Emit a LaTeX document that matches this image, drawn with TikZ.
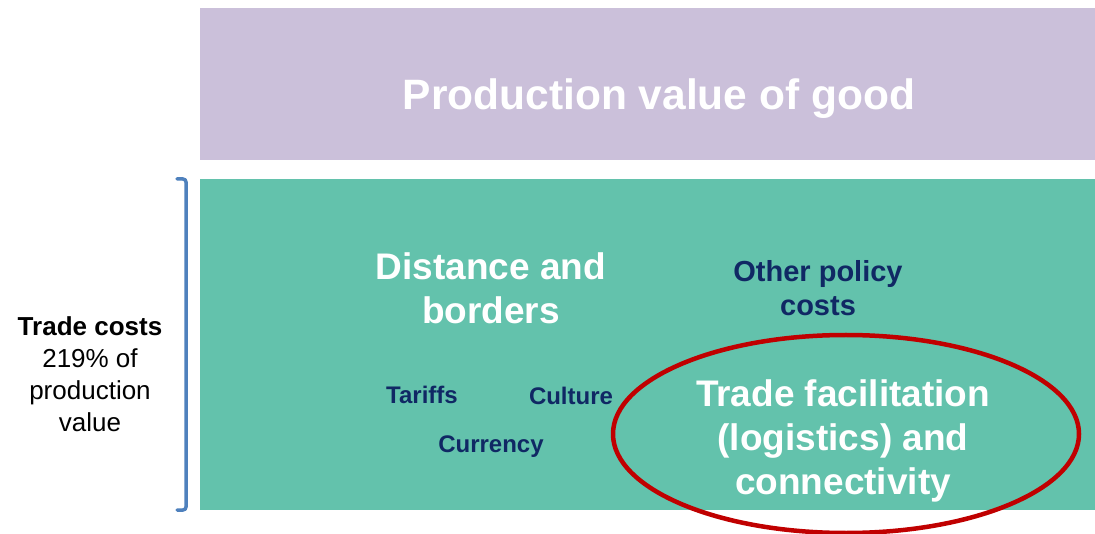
\documentclass[tikz,border=0pt]{standalone}
\usepackage{fontspec}
\setmainfont{Liberation Sans}
\definecolor{lilac}{RGB}{203,192,218}
\definecolor{seagreen}{RGB}{99,194,172}
\definecolor{navytext}{RGB}{16,40,100}
\definecolor{ringred}{RGB}{192,0,0}
\definecolor{bracketblue}{RGB}{79,129,189}
\tikzset{
  bigwhite/.style={text=white, align=center, inner sep=0pt, font=\bfseries\fontsize{37}{44}\selectfont},
  policy/.style={text=navytext, align=center, inner sep=0pt, font=\bfseries\fontsize{29}{34}\selectfont},
  factor/.style={text=navytext, inner sep=0pt, font=\bfseries\fontsize{24}{28}\selectfont}
}
\begin{document}
\begin{tikzpicture}[x=1pt,y=-1pt, line join=round, line cap=round]
\useasboundingbox (0,0) rectangle (1095,534);
\fill[lilac] (200,8) rectangle (1095,160);
\fill[seagreen] (200,179) rectangle (1095,510);
\node[text=white, inner sep=0pt, font=\bfseries\fontsize{42.5}{50}\selectfont] (prod) at (659,99) {Production value of good};
\node[bigwhite] (dist) at (491,288) {Distance and\\borders};
\node[policy] (other) at (818,288) {Other policy\\costs};
\node[factor] (tariffs) at (422,395) {Tariffs};
\node[factor] (culture) at (571,396) {Culture};
\node[factor] (currency) at (491,447) {Currency};
\node[bigwhite] (tf) at (843,441) {Trade facilitation\\(logistics) and\\connectivity};
\draw[ringred, line width=4.5pt] (846,434) ellipse [x radius=233pt, y radius=99pt];
\draw[bracketblue, line width=3.5pt, rounded corners=3pt] (177,179)--(186,179)--(186,510)--(177,510);
\node[align=center, inner sep=0pt, font=\fontsize{26}{32}\selectfont] (costs) at (90,374) {\textbf{Trade costs}\\219\% of\\production\\value};
\end{tikzpicture}
\end{document}
